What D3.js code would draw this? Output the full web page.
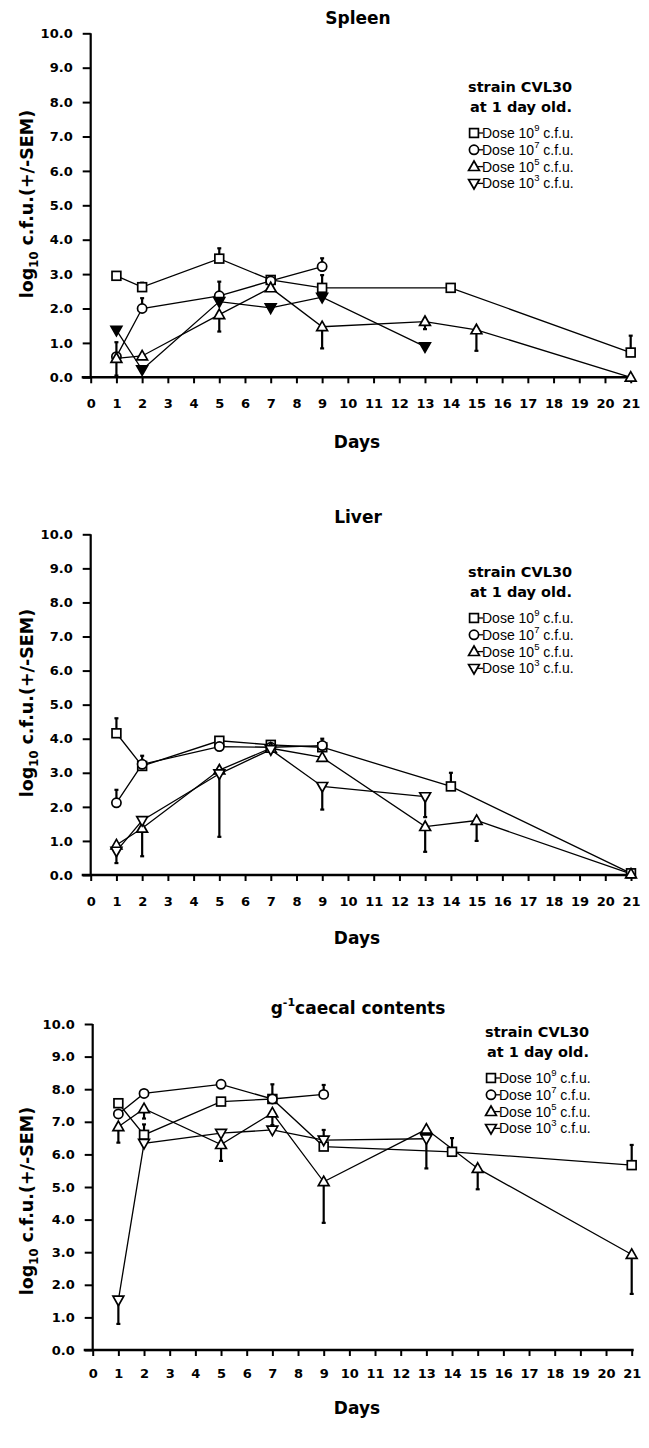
<!DOCTYPE html>
<html><head><meta charset="utf-8">
<script src="https://cdn.jsdelivr.net/npm/d3@7"></script>
<style>
html,body{margin:0;padding:0;background:#fff;}
text{fill:#000;}
.b{font-family:"DejaVu Sans",sans-serif;font-weight:bold;}
.r{font-family:"Liberation Sans",Arial,sans-serif;}
</style></head>
<body>
<svg id="chart" width="649" height="1448"></svg>
<script>
// ---------- data ----------
const xTicks = d3.range(0, 22);
const yTicks = d3.range(0, 11);
const doseLabels = ["9", "7", "5", "3"];
const symbols = ["square", "circle", "triUp", "triDown"];

// Spleen
const spleenDays9 = [1, 2, 5, 7, 9, 14, 21];
const spleenVal9  = [2.95, 2.62, 3.45, 2.83, 2.6, 2.6, 0.72];
const spleenErr9  = [null, 2.75, 3.75, null, 2.97, null, 1.21];
const spleenDays7 = [1, 2, 5, 7, 9];
const spleenVal7  = [0.6, 2.0, 2.37, 2.8, 3.22];
const spleenErr7  = [1.02, 2.3, 2.78, null, 3.46];
const spleenDays5 = [1, 2, 5, 7, 9, 13, 15, 21];
const spleenVal5  = [0.55, 0.62, 1.82, 2.6, 1.47, 1.62, 1.38, 0];
const spleenErr5  = [0.05, null, 1.33, null, 0.84, 1.4, 0.77, null];
const spleenDays3 = [1, 2, 5, 7, 9, 13];
const spleenVal3  = [1.37, 0.22, 2.2, 2.02, 2.33, 0.89];
const spleenErr3  = [null, null, null, null, null, null];

// Liver
const liverDays9 = [1, 2, 5, 7, 9, 14, 21];
const liverVal9  = [4.16, 3.2, 3.94, 3.82, 3.75, 2.6, 0.05];
const liverErr9  = [4.6, 3.5, null, null, 4.0, 3.0, null];
const liverDays7 = [1, 2, 5, 7, 9];
const liverVal7  = [2.12, 3.25, 3.77, 3.75, 3.8];
const liverErr7  = [2.5, null, null, null, null];
const liverDays5 = [1, 2, 5, 7, 9, 13, 15, 21];
const liverVal5  = [0.88, 1.37, 3.08, 3.72, 3.45, 1.42, 1.6, 0.03];
const liverErr5  = [null, 0.55, null, null, null, 0.68, 1.0, null];
const liverDays3 = [1, 2, 5, 7, 9, 13];
const liverVal3  = [0.7, 1.6, 2.97, 3.68, 2.6, 2.3];
const liverErr3  = [0.35, null, 1.12, null, 1.92, 1.7];

// Caecal contents
const caecDays9 = [1, 2, 5, 7, 9, 14, 21];
const caecVal9  = [7.57, 6.6, 7.62, 7.7, 6.24, 6.08, 5.67];
const caecErr9  = [null, 6.92, null, null, null, 6.5, 6.29];
const caecDays7 = [1, 2, 5, 7, 9];
const caecVal7  = [7.24, 7.87, 8.15, 7.7, 7.84];
const caecErr7  = [null, null, null, 8.15, 8.13];
const caecDays5 = [1, 2, 5, 7, 9, 13, 15, 21];
const caecVal5  = [6.85, 7.4, 6.3, 7.27, 5.16, 6.77, 5.57, 2.93];
const caecErr5  = [6.36, 7.1, 5.8, 6.9, 3.9, null, 4.93, 1.72];
const caecDays3 = [1, 2, 5, 7, 9, 13];
const caecVal3  = [1.53, 6.34, 6.65, 6.75, 6.44, 6.48];
const caecErr3  = [0.8, null, null, null, 6.75, 5.57];

// ---------- layout ----------
const panels = [
  { title: "Spleen", sup: null, x0: 90.7, x1: 630.7, yTop: 33.3, yBot: 377.3, titleY: 18, legX: 468, legY: 87, ticksY: 403, daysY: 442, labY: 204, fill3: true,
    series: [[spleenDays9, spleenVal9, spleenErr9], [spleenDays7, spleenVal7, spleenErr7], [spleenDays5, spleenVal5, spleenErr5], [spleenDays3, spleenVal3, spleenErr3]] },
  { title: "Liver", sup: null, x0: 90.7, x1: 631, yTop: 534.3, yBot: 875, titleY: 517, legX: 468, legY: 572, ticksY: 901, daysY: 938, labY: 703, fill3: false,
    series: [[liverDays9, liverVal9, liverErr9], [liverDays7, liverVal7, liverErr7], [liverDays5, liverVal5, liverErr5], [liverDays3, liverVal3, liverErr3]] },
  { title: "caecal contents", sup: "-1", x0: 92.7, x1: 631.7, yTop: 1024, yBot: 1350, titleY: 1008, legX: 485, legY: 1032, ticksY: 1373, daysY: 1408, labY: 1201, fill3: false,
    series: [[caecDays9, caecVal9, caecErr9], [caecDays7, caecVal7, caecErr7], [caecDays5, caecVal5, caecErr5], [caecDays3, caecVal3, caecErr3]] }
];

const svg = d3.select("#chart");

function drawSymbol(g, type, cx, cy, filled) {
  const fill = filled ? "#000" : "#fff";
  let el;
  if (type === "square") {
    el = g.append("rect").attr("x", cx - 4.4).attr("y", cy - 4.4).attr("width", 8.8).attr("height", 8.8);
  } else if (type === "circle") {
    el = g.append("circle").attr("cx", cx).attr("cy", cy).attr("r", 4.6);
  } else if (type === "triUp") {
    el = g.append("path").attr("d", `M${cx},${cy - 5.6}L${cx + 5.4},${cy + 3.9}L${cx - 5.4},${cy + 3.9}Z`);
  } else {
    el = g.append("path").attr("d", `M${cx},${cy + 5.6}L${cx + 5.4},${cy - 3.9}L${cx - 5.4},${cy - 3.9}Z`);
  }
  el.attr("stroke", "#000").attr("stroke-width", 1.7).attr("fill", fill);
}

panels.forEach(p => {
  const g = svg.append("g");
  const x = d3.scaleLinear().domain([0, 21]).range([p.x0, p.x1]);
  const y = d3.scaleLinear().domain([0, 10]).range([p.yBot, p.yTop]);

  // y axis
  const ya = g.append("g").attr("transform", `translate(${p.x0},0)`)
    .call(d3.axisLeft(y).tickValues(yTicks).tickFormat(d3.format(".1f")).tickSize(8).tickPadding(10));
  ya.select(".domain").attr("stroke-width", 2.2).attr("d", `M0,${p.yTop}V${p.yBot}`);
  ya.selectAll(".tick line").attr("stroke-width", 2);
  ya.selectAll(".tick text").attr("class", "b").attr("font-size", 13).attr("font-family", null);

  // x axis
  const xa = g.append("g").attr("transform", `translate(0,${p.yBot})`)
    .call(d3.axisBottom(x).tickValues(xTicks).tickFormat(d3.format("d")).tickSize(6).tickPadding(0));
  xa.select(".domain").attr("stroke-width", 2.6).attr("d", `M${p.x0 - 9},0H${p.x1 + 2}`);
  xa.selectAll(".tick line").attr("stroke-width", 2);
  xa.selectAll(".tick text").attr("class", "b").attr("font-size", 13).attr("font-family", null)
    .attr("dy", null).attr("y", p.ticksY - p.yBot + 5);

  // axis titles
  g.append("text").attr("class", "b").attr("x", 357).attr("y", p.daysY + 6).attr("text-anchor", "middle")
    .attr("font-size", 17).text("Days");
  const yl = g.append("text").attr("class", "b").attr("transform", `translate(33,${p.labY}) rotate(-90)`)
    .attr("text-anchor", "middle").attr("font-size", 17.5);
  yl.append("tspan").text("log");
  yl.append("tspan").attr("font-size", 11.5).attr("dy", 5).text("10");
  yl.append("tspan").attr("dy", -5).text(" c.f.u.(+/-SEM)");

  // panel title
  const tt = g.append("text").attr("class", "b").attr("x", 358).attr("y", p.titleY + 6).attr("text-anchor", "middle")
    .attr("font-size", 17);
  if (p.sup) {
    tt.append("tspan").text("g");
    tt.append("tspan").attr("font-size", 11).attr("dy", -8).text(p.sup);
    tt.append("tspan").attr("dy", 8).text(p.title);
  } else tt.text(p.title);

  // series
  const line = d3.line().x(d => x(d[0])).y(d => y(d[1]));
  p.series.forEach((s, si) => {
    const pts = s[0].map((d, i) => [d, s[1][i], s[2][i]]);
    pts.filter(d => d[2] !== null).forEach(d => {
      g.append("line").attr("x1", x(d[0])).attr("x2", x(d[0])).attr("y1", y(d[1])).attr("y2", y(d[2]))
        .attr("stroke", "#000").attr("stroke-width", 2.2);
      g.append("line").attr("x1", x(d[0]) - 2).attr("x2", x(d[0]) + 2).attr("y1", y(d[2])).attr("y2", y(d[2]))
        .attr("stroke", "#000").attr("stroke-width", 2.2);
    });
    g.append("path").datum(pts).attr("d", line).attr("fill", "none").attr("stroke", "#000").attr("stroke-width", 1.3);
  });
  p.series.forEach((s, si) => {
    s[0].forEach((d, i) => drawSymbol(g, symbols[si], x(d), y(s[1][i]), si === 3 && p.fill3));
  });

  // legend
  const lg = g.append("g");
  lg.append("text").attr("class", "b").attr("x", p.legX).attr("y", p.legY + 5).attr("font-size", 14.5).text("strain CVL30");
  lg.append("text").attr("class", "b").attr("x", p.legX + 2).attr("y", p.legY + 25).attr("font-size", 14.5).text("at 1 day old.");
  doseLabels.forEach((dl, i) => {
    const cy = p.legY + 46 + i * 16.8;
    const sx = p.legX + 6;
    lg.append("line").attr("x1", sx).attr("x2", sx + 9).attr("y1", cy).attr("y2", cy).attr("stroke", "#000").attr("stroke-width", 1.3);
    drawSymbol(lg, symbols[i], sx, cy, false);
    const t = lg.append("text").attr("class", "r").attr("x", sx + 8).attr("y", cy + 5).attr("font-size", 14);
    t.append("tspan").text("Dose 10");
    t.append("tspan").attr("font-size", 9.5).attr("dy", -7).text(dl);
    t.append("tspan").attr("dy", 7).text(" c.f.u.");
  });
});
</script>
</body></html>
